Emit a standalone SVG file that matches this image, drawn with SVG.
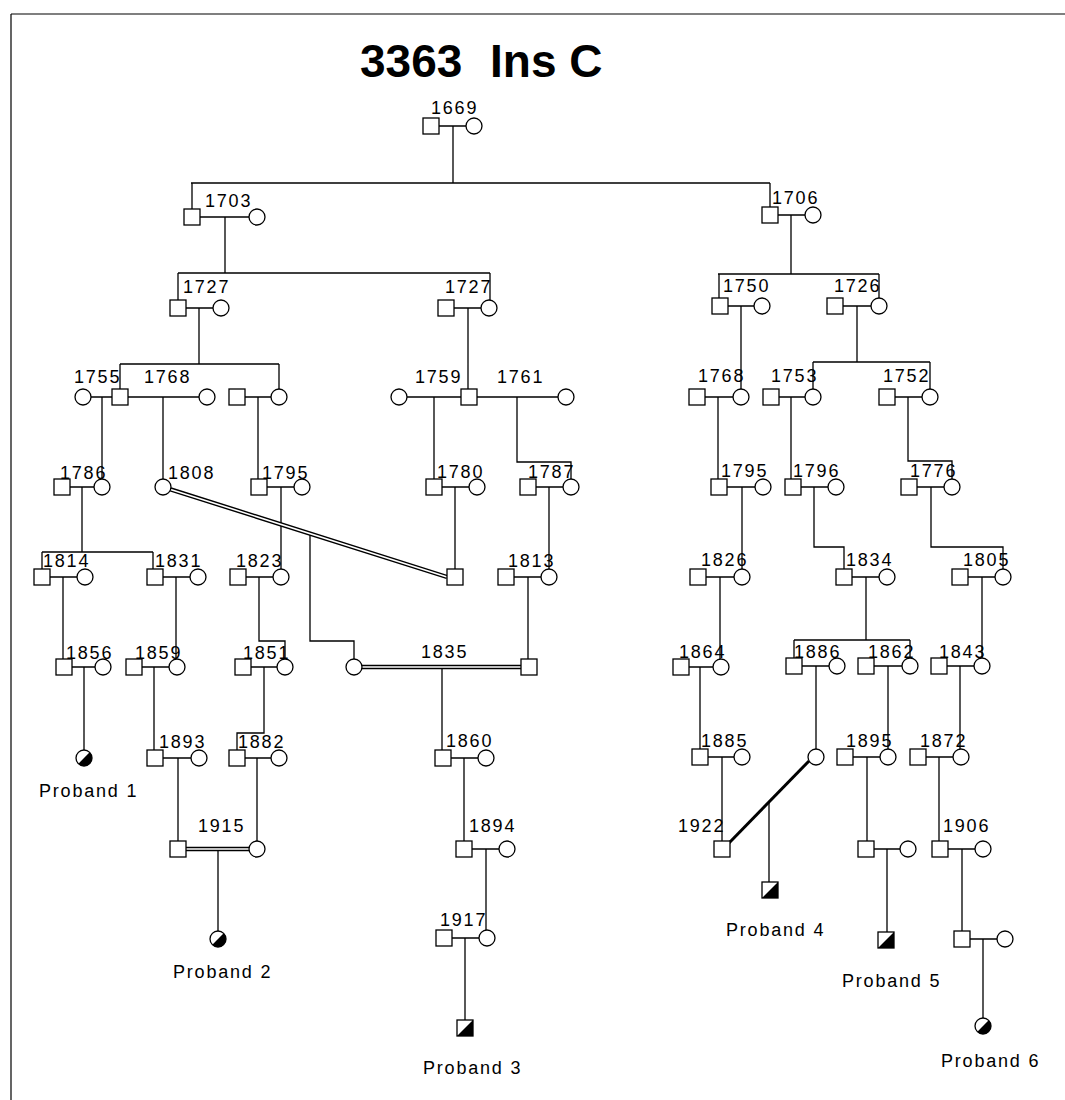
<svg xmlns="http://www.w3.org/2000/svg" width="1065" height="1100" viewBox="0 0 1065 1100">
<style>
.n{fill:#fff;stroke:#000;stroke-width:1.3}
.c path{fill:none;stroke:#000;stroke-width:1.3}
.lb{font-family:"Liberation Sans",Arial,sans-serif;font-size:18px;letter-spacing:1.8px;fill:#000}
.tt{font-family:"Liberation Sans",Arial,sans-serif;font-size:46px;font-weight:bold;fill:#000}
.c path.dbl{fill:none;stroke:#000;stroke-width:4.4}
.c path.dbw{fill:none;stroke:#fff;stroke-width:1.6}
.c path.thk{stroke-width:3}
</style>
<defs>
<rect id="sq" x="-8" y="-8" width="16" height="16" class="n"/>
<circle id="ci" r="8" class="n"/>
<g id="psq"><rect x="-8" y="-8" width="16" height="16" class="n"/><path d="M8 -8L8 8L-8 8Z" fill="#000"/></g>
<g id="pci"><circle r="8" class="n"/><path d="M5.66 -5.66A8 8 0 0 1 -5.66 5.66Z" fill="#000"/></g>
</defs>
<rect width="1065" height="1100" fill="#fff"/>
<path d="M11 14H1065M11 14V1100" stroke="#000" stroke-width="1.2" fill="none"/>
<text class="tt" x="360" y="77">3363</text>
<text class="tt" x="490" y="77">Ins C</text>

<g id="connectors" class="c">
<path d="M453 126V183M191 183H770M192 183V209M770 183V207"/>
<path d="M225 217V273M178 273H490M178 273V300M490 273V300"/>
<path d="M791 215V274M718 274H879M719 274V298M879 274V298"/>
<path d="M199 308V364M120 364H279M120 364V389M279 364V390M468 308V389"/>
<path d="M102 397V479M163 397V479M258 397V479M434 397V479M517 397V462H571V479"/>
<path d="M741 306V389M857 306V362M813 362H930M813 362V389M930 362V389"/>
<path d="M718 397V479M791 397V479M908 397V461H952V479"/>
<path d="M82 487V552M42 552H153M42 552V569M153 552V569M281 487V569M455 487V569M549 487V569"/>
<path d="M742 487V569M814 487V547H844V569M931 487V547H1003V569"/>
<path d="M63 577V659M176 577V659M259 577V641H285V659M528 577V659M310 534V641H354V659"/>
<path d="M720 577V659M866 577V640M794 640H910M794 640V658M910 640V658M982 577V658"/>
<path d="M84 667V750M154 667V750M264 667V733H237V750M442 667V750"/>
<path d="M700 667V749M816 666V749M888 666V749M960 666V749"/>
<path d="M178 758V841M257 758V841M464 758V841M722 757V841M867 757V841M939 757V841"/>
<path d="M218 849V931M486 849V930M465 938V1020M769 802V882M887 849V932M962 849V931M983 939V1018"/>
<path d="M439 126H466M200 217H249M778 215H805M186 308H213M454 308H481M728 306H754M843 306H871"/>
<path d="M91 397H112M128 397H199M245 397H271M407 397H461M477 397H558M705 397H733M779 397H805M895 397H922"/>
<path d="M70 487H94M267 487H294M442 487H469M536 487H563M727 487H755M801 487H828M917 487H944"/>
<path d="M50 577H77M163 577H190M246 577H273M514 577H541M706 577H734M852 577H879M968 577H995"/>
<path d="M72 667H95M142 667H169M251 667H277M689 667H713M802 666H829M874 666H902M947 666H974"/>
<path d="M163 758H191M245 758H271M451 758H478M708 757H734M853 757H880M926 757H953"/>
<path d="M472 849H499M874 849H900M948 849H975M452 938H479M970 939H997"/>
<path class="dbl" d="M170.6 489.4L447 577M362 667H521M186 849H249"/>
<path class="dbw" d="M170.6 489.4L447 577M362 667H521M186 849H249"/>
<path class="thk" d="M809 761L729 843"/>
</g>

<g id="n1669"><use href="#sq" x="431" y="126"/><use href="#ci" x="474" y="126"/><text class="lb" x="431" y="114">1669</text></g>
<g id="n1703"><use href="#sq" x="192" y="217"/><use href="#ci" x="257" y="217"/><text class="lb" x="205" y="207">1703</text></g>
<g id="n1706"><use href="#sq" x="770" y="215"/><use href="#ci" x="813" y="215"/><text class="lb" x="772" y="204">1706</text></g>
<g id="n1727a"><use href="#sq" x="178" y="308"/><use href="#ci" x="221" y="308"/><text class="lb" x="183" y="293">1727</text></g>
<g id="n1727b"><use href="#sq" x="446" y="308"/><use href="#ci" x="489" y="308"/><text class="lb" x="445" y="293">1727</text></g>
<g id="n1750"><use href="#sq" x="720" y="306"/><use href="#ci" x="762" y="306"/><text class="lb" x="723" y="292">1750</text></g>
<g id="n1726"><use href="#sq" x="835" y="306"/><use href="#ci" x="879" y="306"/><text class="lb" x="834" y="292">1726</text></g>
<g id="n1755_1768"><use href="#ci" x="83" y="397"/><use href="#sq" x="120" y="397"/><use href="#ci" x="207" y="397"/><text class="lb" x="74" y="383">1755</text><text class="lb" x="144" y="383">1768</text></g>
<g id="n3a"><use href="#sq" x="237" y="397"/><use href="#ci" x="279" y="397"/></g>
<g id="n1759_1761"><use href="#ci" x="399" y="397"/><use href="#sq" x="469" y="397"/><use href="#ci" x="566" y="397"/><text class="lb" x="415" y="383">1759</text><text class="lb" x="497" y="383">1761</text></g>
<g id="n1768b"><use href="#sq" x="697" y="397"/><use href="#ci" x="741" y="397"/><text class="lb" x="698" y="382">1768</text></g>
<g id="n1753"><use href="#sq" x="771" y="397"/><use href="#ci" x="813" y="397"/><text class="lb" x="771" y="382">1753</text></g>
<g id="n1752"><use href="#sq" x="887" y="397"/><use href="#ci" x="930" y="397"/><text class="lb" x="883" y="382">1752</text></g>
<g id="n1786"><use href="#sq" x="62" y="487"/><use href="#ci" x="102" y="487"/><text class="lb" x="60" y="479">1786</text></g>
<g id="n1808"><use href="#ci" x="163" y="487"/><text class="lb" x="168" y="479">1808</text></g>
<g id="n1795a"><use href="#sq" x="259" y="487"/><use href="#ci" x="302" y="487"/><text class="lb" x="262" y="479">1795</text></g>
<g id="n1780"><use href="#sq" x="434" y="487"/><use href="#ci" x="477" y="487"/><text class="lb" x="437" y="478">1780</text></g>
<g id="n1787"><use href="#sq" x="528" y="487"/><use href="#ci" x="571" y="487"/><text class="lb" x="528" y="478">1787</text></g>
<g id="n1795b"><use href="#sq" x="719" y="487"/><use href="#ci" x="763" y="487"/><text class="lb" x="721" y="477">1795</text></g>
<g id="n1796"><use href="#sq" x="793" y="487"/><use href="#ci" x="836" y="487"/><text class="lb" x="793" y="477">1796</text></g>
<g id="n1776"><use href="#sq" x="909" y="487"/><use href="#ci" x="952" y="487"/><text class="lb" x="910" y="477">1776</text></g>
<g id="n1814"><use href="#sq" x="42" y="577"/><use href="#ci" x="85" y="577"/><text class="lb" x="43" y="567">1814</text></g>
<g id="n1831"><use href="#sq" x="155" y="577"/><use href="#ci" x="198" y="577"/><text class="lb" x="155" y="567">1831</text></g>
<g id="n1823"><use href="#sq" x="238" y="577"/><use href="#ci" x="281" y="577"/><text class="lb" x="236" y="567">1823</text></g>
<g id="n4a"><use href="#sq" x="455" y="577"/></g>
<g id="n1813"><use href="#sq" x="506" y="577"/><use href="#ci" x="549" y="577"/><text class="lb" x="508" y="567">1813</text></g>
<g id="n1826"><use href="#sq" x="698" y="577"/><use href="#ci" x="742" y="577"/><text class="lb" x="701" y="566">1826</text></g>
<g id="n1834"><use href="#sq" x="844" y="577"/><use href="#ci" x="887" y="577"/><text class="lb" x="846" y="566">1834</text></g>
<g id="n1805"><use href="#sq" x="960" y="577"/><use href="#ci" x="1003" y="577"/><text class="lb" x="963" y="566">1805</text></g>
<g id="n1856"><use href="#sq" x="64" y="667"/><use href="#ci" x="103" y="667"/><text class="lb" x="66" y="659">1856</text></g>
<g id="n1859"><use href="#sq" x="134" y="667"/><use href="#ci" x="177" y="667"/><text class="lb" x="135" y="659">1859</text></g>
<g id="n1851"><use href="#sq" x="243" y="667"/><use href="#ci" x="285" y="667"/><text class="lb" x="243" y="659">1851</text></g>
<g id="n1835"><use href="#ci" x="354" y="667"/><use href="#sq" x="529" y="667"/><text class="lb" x="421" y="658">1835</text></g>
<g id="n1864"><use href="#sq" x="681" y="667"/><use href="#ci" x="721" y="667"/><text class="lb" x="679" y="658">1864</text></g>
<g id="n1886"><use href="#sq" x="794" y="666"/><use href="#ci" x="837" y="666"/><text class="lb" x="794" y="658">1886</text></g>
<g id="n1862"><use href="#sq" x="866" y="666"/><use href="#ci" x="910" y="666"/><text class="lb" x="868" y="658">1862</text></g>
<g id="n1843"><use href="#sq" x="939" y="666"/><use href="#ci" x="982" y="666"/><text class="lb" x="939" y="658">1843</text></g>
<g id="n1893"><use href="#sq" x="155" y="758"/><use href="#ci" x="199" y="758"/><text class="lb" x="159" y="748">1893</text></g>
<g id="n1882"><use href="#sq" x="237" y="758"/><use href="#ci" x="279" y="758"/><text class="lb" x="238" y="748">1882</text></g>
<g id="n1860"><use href="#sq" x="443" y="758"/><use href="#ci" x="486" y="758"/><text class="lb" x="446" y="747">1860</text></g>
<g id="n1885"><use href="#sq" x="700" y="757"/><use href="#ci" x="742" y="757"/><text class="lb" x="701" y="747">1885</text></g>
<g id="n5a"><use href="#ci" x="816" y="757"/></g>
<g id="n1895"><use href="#sq" x="845" y="757"/><use href="#ci" x="888" y="757"/><text class="lb" x="846" y="747">1895</text></g>
<g id="n1872"><use href="#sq" x="918" y="757"/><use href="#ci" x="961" y="757"/><text class="lb" x="920" y="747">1872</text></g>
<g id="n1915"><use href="#sq" x="178" y="849"/><use href="#ci" x="257" y="849"/><text class="lb" x="198" y="832">1915</text></g>
<g id="n1894"><use href="#sq" x="464" y="849"/><use href="#ci" x="507" y="849"/><text class="lb" x="469" y="832">1894</text></g>
<g id="n1922"><use href="#sq" x="722" y="849"/><text class="lb" x="678" y="832">1922</text></g>
<g id="n6a"><use href="#sq" x="866" y="849"/><use href="#ci" x="908" y="849"/></g>
<g id="n1906"><use href="#sq" x="940" y="849"/><use href="#ci" x="983" y="849"/><text class="lb" x="943" y="832">1906</text></g>
<g id="n1917"><use href="#sq" x="444" y="938"/><use href="#ci" x="487" y="938"/><text class="lb" x="440" y="926">1917</text></g>
<g id="n7a"><use href="#sq" x="962" y="939"/><use href="#ci" x="1005" y="939"/></g>
<g id="proband1"><use href="#pci" x="84" y="758"/><text class="lb" x="39" y="797">Proband 1</text></g>
<g id="proband2"><use href="#pci" x="218" y="939"/><text class="lb" x="173" y="978">Proband 2</text></g>
<g id="proband3"><use href="#psq" x="465" y="1028"/><text class="lb" x="423" y="1074">Proband 3</text></g>
<g id="proband4"><use href="#psq" x="770" y="890"/><text class="lb" x="726" y="936">Proband 4</text></g>
<g id="proband5"><use href="#psq" x="886" y="940"/><text class="lb" x="842" y="987">Proband 5</text></g>
<g id="proband6"><use href="#pci" x="983" y="1026"/><text class="lb" x="941" y="1067">Proband 6</text></g>
</svg>
